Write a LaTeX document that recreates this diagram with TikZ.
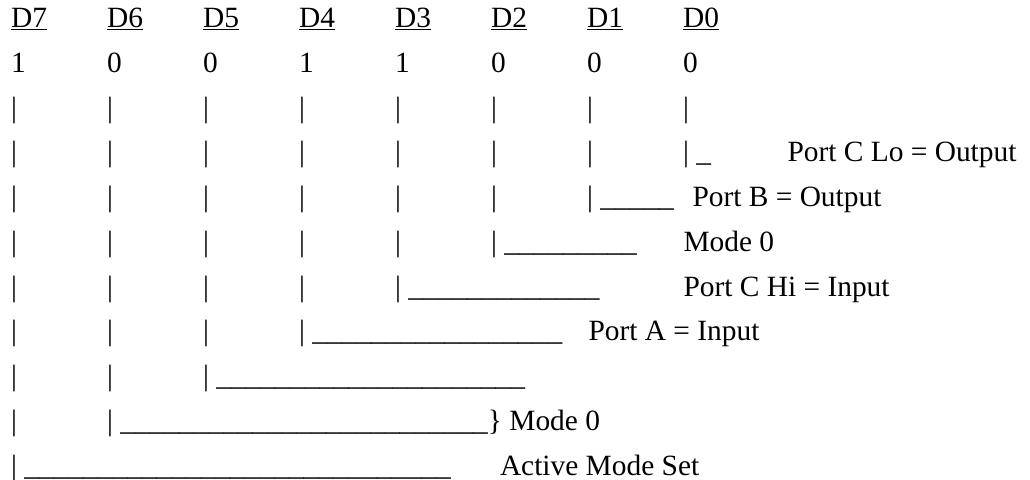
\documentclass[tikz,border=0pt]{standalone}
\usepackage{fontspec}
\setmainfont{Liberation Serif}
\newcount\undcount
\newcommand{\ulbl}[1]{\setbox0\hbox{#1}\rlap{\rule[-2.8pt]{\wd0}{1.3pt}}\box0}
\newcommand{\unds}[1]{\undcount=0 \loop\ifnum\undcount<#1 \textunderscore\advance\undcount by 1 \repeat}
\begin{document}
\begin{tikzpicture}[x=1pt,y=-1pt,
  txt/.style={inner sep=0pt, outer sep=0pt, anchor=base west, font=\fontsize{29.4}{35}\selectfont}]
\useasboundingbox (0,0) rectangle (1030,479);
% header
\foreach \lab [count=\i from 0] in {D7,D6,D5,D4,D3,D2,D1,D0}
  \node[txt] (h\i) at ({11.2+96*\i},27.5) {\ulbl{\lab}};
% bits
\foreach \b [count=\i from 0] in {1,0,0,1,1,0,0,0}
  \node[txt] (b\i) at ({11.2+96*\i},{27.5+44.75}) {\b};
% pipes and underscore runs
\foreach \i in {0,...,7}{
  \pgfmathtruncatemacro\last{9-\i}
  \foreach \k in {2,...,\last}
    \node[txt] (p\i-\k) at ({11.2+96*\i},{27.5+44.75*\k}) {|};
  \pgfmathtruncatemacro\kk{10-\i}
  \pgfmathtruncatemacro\n{1+4*(\kk-3)}
  \node[txt] (u\i) at ({11.2+96*\i},{27.5+44.75*\kk}) {|\ \unds{\n}};
}
% labels
\node[txt] (lCL) at (787.5,{27.5+44.75*3}) {Port C Lo = Output};
\node[txt] (lB)  at (692.5,{27.5+44.75*4}) {Port B = Output};
\node[txt] (lM)  at (683.5,{27.5+44.75*5}) {Mode 0};
\node[txt] (lCH) at (683.5,{27.5+44.75*6}) {Port C Hi = Input};
\node[txt] (lA)  at (588.5,{27.5+44.75*7}) {Port A = Input};
\node[txt] (lM2) at (u1.base east) {\}\ Mode 0};
\node[txt] (lS)  at (500,{27.5+44.75*10}) {Active Mode Set};
\end{tikzpicture}
\end{document}
